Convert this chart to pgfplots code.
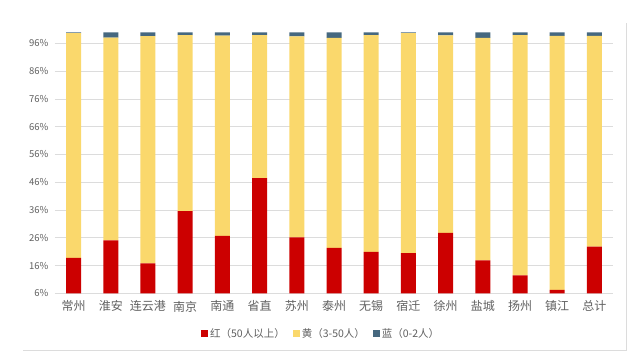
\documentclass[border=0pt]{standalone}
\usepackage{pgfplots}
\pgfplotsset{compat=1.18}
\usepackage{fontspec}
\setmainfont{Noto Sans CJK SC}
\definecolor{cRed}{HTML}{CC0000}
\definecolor{cYel}{HTML}{FAD86C}
\definecolor{cBlue}{HTML}{46687F}
\definecolor{cGrid}{HTML}{DCDCDC}
\definecolor{cTxt}{HTML}{606060}
\begin{document}
\begin{tikzpicture}[x=1pt,y=1pt]
\path[use as bounding box] (0,0) rectangle (635,360);
\draw[cGrid, line width=0.8pt] (23,10) -- (626.5,10) -- (626.5,337);
\begin{axis}[
  at={(55pt,66.7pt)}, anchor=south west,
  scale only axis, width=558pt, height=261pt,
  ybar stacked, bar width=15pt,
  xmin=-0.5, xmax=14.5, ymin=6, ymax=100,
  xtick={0,...,14},
  xticklabels={常州,淮安,连云港,南京,南通,省直,苏州,泰州,无锡,宿迁,徐州,盐城,扬州,镇江,总计},
  ytick={6,16,26,36,46,56,66,76,86,96},
  yticklabel={\pgfmathprintnumber{\tick}\%},
  /pgf/number format/assume math mode=true,
  yticklabel style={font=\fontsize{9.5}{11}\selectfont, text=cTxt, xshift=-3pt},
  xticklabel style={font=\fontsize{12}{13}\selectfont, text=cTxt, yshift=-4pt},
  major tick length=0pt,
  ymajorgrids, grid style={cGrid, line width=0.6pt},
  axis line style={draw=none},
  axis x line*=bottom, axis y line*=left,
  tick align=outside,
  legend style={draw=none, at={(0.477,-0.118)}, anchor=north, legend columns=3,
    font=\fontsize{10.5}{12}\selectfont, text=cTxt,
    /tikz/every even column/.append style={column sep=6pt}},
  legend image code/.code={\fill[#1] (0pt,-3.5pt) rectangle (7pt,3.5pt);},
]
\addplot[draw=none, fill=cRed] coordinates {
(0,18.8) (1,25.1) (2,16.8) (3,35.6) (4,26.7) (5,47.5) (6,26.1) (7,22.4)
(8,20.9) (9,20.5) (10,27.8) (11,17.9) (12,12.5) (13,7.2) (14,22.8)};
\addlegendentry{红（50人以上）}
\addplot[draw=none, fill=cYel] coordinates {
(0,80.9) (1,73.0) (2,81.8) (3,63.4) (4,72.1) (5,51.5) (6,72.4) (7,75.6)
(8,78.1) (9,79.2) (10,71.1) (11,80.1) (12,86.5) (13,91.5) (14,75.9)};
\addlegendentry{黄（3-50人）}
\addplot[draw=none, fill=cBlue] coordinates {
(0,0.3) (1,1.9) (2,1.4) (3,1.0) (4,1.2) (5,1.0) (6,1.5) (7,2.0)
(8,1.0) (9,0.3) (10,1.1) (11,2.0) (12,1.0) (13,1.3) (14,1.3)};
\addlegendentry{蓝（0-2人）}
\end{axis}
\end{tikzpicture}
\end{document}
